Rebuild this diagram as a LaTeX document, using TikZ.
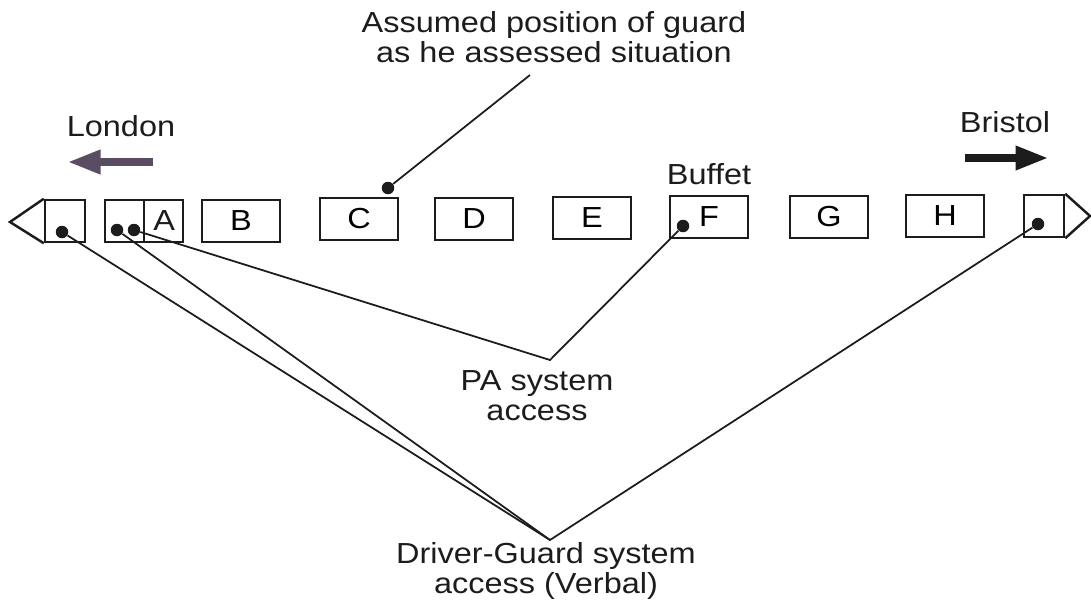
\documentclass[tikz,border=0pt]{standalone}
\usepackage{fontspec}
\setmainfont{Liberation Sans}
\newfontfamily\trainsans[FakeStretch=1.12]{Liberation Sans}
\usepackage{tikz}
\usetikzlibrary{arrows.meta, positioning, calc}
\definecolor{trainink}{HTML}{1C1C1C}
\definecolor{londonink}{HTML}{5A4D63}

\begin{document}
\begin{tikzpicture}[
    x=0.2mm, y=-0.2mm,
    coach/.style={rectangle, draw=trainink, line width=1.4pt, minimum width=15.6mm, minimum height=8.4mm, inner sep=0pt, font=\trainsans\fontsize{16.5}{18}\selectfont},
    cab/.style={coach, minimum width=8mm},
    label/.style={font=\trainsans\fontsize{16.5}{17.2}\selectfont, text=trainink, align=center, inner sep=0pt},
    tap/.style={circle, fill=trainink, inner sep=0pt, minimum size=2.5mm},
    lead/.style={draw=trainink, line width=1pt},
    heading/.style={line width=4pt, -{Triangle[length=6.5mm, width=4.6mm]}}
]
\useasboundingbox (0,0) rectangle (1091,607);

% The train, London end on the left
\node[cab] (cabL) at (65,221) {};
\coordinate (noseL) at (10,222);
\draw[trainink, line width=1.4pt] (cabL.north west) -- (noseL) -- (cabL.south west);
\node[coach] (A) at (144,221) {};
\draw[trainink, line width=1.4pt] (A.north) -- (A.south);
\node[label, font=\trainsans\fontsize{16.5}{18}\selectfont] at ($(A.center)!0.5!(A.east)$) {A};
\node[coach] (B) at (241,221) {B};
\node[coach] (C) at (359,219) {C};
\node[coach] (D) at (474,219) {D};
\node[coach] (E) at (592,218) {E};
\node[coach] (F) at (709,217) {F};
\node[coach] (G) at (829,217) {G};
\node[coach] (H) at (945,216) {H};
\node[cab] (cabR) at (1044,216) {};
\coordinate (noseR) at (1090,216);
\draw[trainink, line width=1.4pt] (cabR.north east) -- (noseR) -- (cabR.south east);

% Access points
\node[tap] (tapL) at (62,232) {};
\node[tap] (tapA1) at (117,230) {};
\node[tap] (tapA2) at (134,230) {};
\node[tap] (tapC) at (388,188) {};
\node[tap] (tapF) at (683,226) {};
\node[tap] (tapR) at (1038,224) {};

% Direction of travel
\node[label] (london) at (121,126) {London};
\coordinate (londonTail) at (153,162);
\coordinate (londonHead) at (68,162);
\draw[heading, londonink] (londonTail) -- (londonHead);
\node[label] (bristol) at (1005,122) {Bristol};
\coordinate (bristolTail) at (965,158);
\coordinate (bristolHead) at (1048,158);
\draw[heading, trainink] (bristolTail) -- (bristolHead);
\node[label] (buffet) at (709,174) {Buffet};

% Captions
\node[label] (guard) at (554,37) {Assumed position of guard\\as he assessed situation};
\node[label] (pa) at (537,396) {PA system\\access};
\node[label] (dg) at (546,571) {Driver-Guard system\\access (Verbal)};
\coordinate (guardEnd) at (530,75);
\coordinate (paApex) at (550,360);
\coordinate (dgApex) at (550,540);

% Leaders
\draw[lead] (tapC) -- (guardEnd);
\draw[lead] (tapA2) -- (paApex) -- (tapF);
\draw[lead] (tapL) -- (dgApex);
\draw[lead] (tapA1) -- (dgApex) -- (tapR);

\end{tikzpicture}
\end{document}
